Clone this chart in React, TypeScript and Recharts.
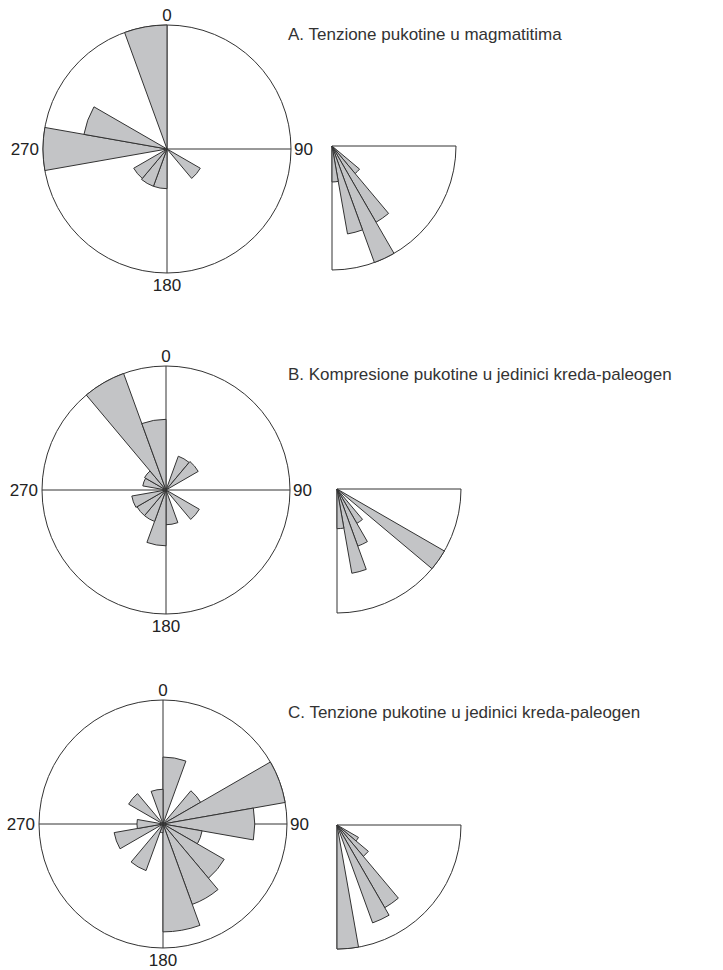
import React from 'react';
import { RadialBarChart, RadialBar, PolarAngleAxis, PolarRadiusAxis, PolarGrid, Pie } from 'recharts';

// strike directions, 20 degree bins given by their centre (percent of the largest petal)
const ROSE_MID = [10, 30, 50, 70, 90, 110, 130, 150, 170, 190, 210, 230, 250, 270, 290, 310, 330, 350];
const ROSE_A = [0, 0, 0, 0, 0, 0, 31, 0, 0, 32, 32, 31, 0, 100, 68, 0, 0, 100];
const ROSE_B = [0, 29, 30, 0, 0, 0, 31, 0, 28, 45, 27, 27, 28, 0, 19, 20, 100, 57];
const ROSE_C = [54, 0, 35, 100, 74, 32, 57, 69, 87, 7, 40, 0, 40, 21, 0, 32, 0, 28];
const ROSE_TICKS = [0, 90, 180, 270];

// dip angles, 10 degree bins
const DIP_MID = [5, 15, 25, 35, 45, 55, 65, 75, 85];
const DIP_A = [0, 0, 0, 0, 29, 71, 100, 72, 29];
const DIP_B = [0, 0, 0, 100, 0, 32, 49, 69, 32];
const DIP_C = [0, 0, 0, 20, 33, 77, 84, 0, 100];
const DIP_TICKS = [0, 90];

const TITLES = [
  'A. Tenzione pukotine u magmatitima',
  'B. Kompresione pukotine u jedinici kreda-paleogen',
  'C. Tenzione pukotine u jedinici kreda-paleogen',
];

const FONT = '"Liberation Sans", Arial, sans-serif';
const FONT_SIZE = 17;
const PETAL = '#c3c4c6';
const LINE = '#333333';
const R = 124;
const NO_MARGIN = { top: 0, right: 0, bottom: 0, left: 0 };

// label placed around the circle, nudged like the original figure
const CompassTick = (props: any) => {
  const { x, y, payload, ccx, ccy } = props;
  const dx = x - ccx;
  const dy = y - ccy;
  let anchor: 'start' | 'middle' | 'end' = 'middle';
  let sx = 0;
  let sy = 6;
  if (Math.abs(dx) > Math.abs(dy)) {
    anchor = dx > 0 ? 'start' : 'end';
    sx = dx > 0 ? -5 : 4;
    sy = 6;
  } else if (dy < 0) {
    sy = 4;
  } else {
    sy = 10;
  }
  return (
    <text x={x + sx} y={y + sy} textAnchor={anchor} fill="#222" fontSize={FONT_SIZE} fontFamily={FONT}>
      {payload.value}
    </text>
  );
};

const Rose = ({ values, x, y }: { values: number[]; x: number; y: number }) => {
  const data = ROSE_MID.map((mid, i) => ({ mid, value: values[i] }));
  const w = 340;
  const h = 330;
  const cx = w / 2;
  const cy = h / 2;
  return (
    <div style={{ position: 'absolute', left: x - cx, top: y - cy }}>
      <RadialBarChart
        width={w}
        height={h}
        data={data}
        layout="centric"
        cx={cx}
        cy={cy}
        innerRadius={0}
        outerRadius={R}
        startAngle={90}
        endAngle={-270}
        barCategoryGap={0}
        margin={NO_MARGIN}
      >
        {/* bins: one tick per petal centre so each petal is 20 degrees wide */}
        <PolarAngleAxis
          angleAxisId="bins"
          dataKey="mid"
          type="number"
          scale="linear"
          domain={[0, 360]}
          ticks={ROSE_MID}
          tick={false}
          tickLine={false}
          axisLine={false}
        />
        <PolarAngleAxis
          dataKey="mid"
          type="number"
          scale="linear"
          domain={[0, 360]}
          ticks={ROSE_TICKS}
          tickLine={false}
          axisLine={false}
          tick={(p: any) => <CompassTick {...p} ccx={cx} ccy={cy} />}
        />
        <PolarRadiusAxis type="number" domain={[0, 100]} ticks={[100]} tick={false} axisLine={false} />
        <PolarGrid gridType="circle" stroke={LINE} strokeWidth={1} />
        <RadialBar dataKey="value" angleAxisId="bins" fill={PETAL} stroke={LINE} strokeWidth={1} isAnimationActive={false} />
      </RadialBarChart>
    </div>
  );
};

const FRAME = [{ name: 'frame', v: 1 }];

const Dip = ({ values, x, y }: { values: number[]; x: number; y: number }) => {
  const data = DIP_MID.map((mid, i) => ({ mid, value: values[i] }));
  const w = 180;
  const h = 170;
  const cx = 20;
  const cy = 10;
  return (
    <div style={{ position: 'absolute', left: x - cx, top: y - cy }}>
      <RadialBarChart
        width={w}
        height={h}
        data={data}
        layout="centric"
        cx={cx}
        cy={cy}
        innerRadius={0}
        outerRadius={R}
        startAngle={0}
        endAngle={-90}
        barCategoryGap={0}
        margin={NO_MARGIN}
      >
        <PolarAngleAxis
          angleAxisId="bins"
          dataKey="mid"
          type="number"
          scale="linear"
          domain={[0, 90]}
          ticks={DIP_MID}
          tick={false}
          tickLine={false}
          axisLine={false}
        />
        <PolarAngleAxis
          dataKey="mid"
          type="number"
          scale="linear"
          domain={[0, 90]}
          ticks={DIP_TICKS}
          tickLine={false}
          axisLine={false}
          tick={(p: any) => <CompassTick {...p} ccx={cx} ccy={cy} />}
        />
        <PolarRadiusAxis type="number" domain={[0, 100]} ticks={[100]} tick={false} axisLine={false} />
        <Pie
          data={FRAME}
          dataKey="v"
          cx={cx}
          cy={cy}
          startAngle={0}
          endAngle={-90}
          innerRadius={0}
          outerRadius={R}
          fill="none"
          stroke={LINE}
          strokeWidth={1}
          isAnimationActive={false}
        />
        <RadialBar dataKey="value" angleAxisId="bins" fill={PETAL} stroke={LINE} strokeWidth={1} isAnimationActive={false} />
      </RadialBarChart>
    </div>
  );
};

export default function App() {
  return (
    <div style={{ position: 'absolute', left: 0, top: 0, width: 723, height: 970, background: '#fff', fontFamily: FONT }}>
      <Rose values={ROSE_A} x={167} y={149} />
      <Dip values={DIP_A} x={332} y={146} />
      <Rose values={ROSE_B} x={166} y={490} />
      <Dip values={DIP_B} x={337} y={489} />
      <Rose values={ROSE_C} x={163} y={824} />
      <Dip values={DIP_C} x={337} y={825} />
      <svg width={723} height={970} style={{ position: 'absolute', left: 0, top: 0, pointerEvents: 'none' }}>
        <text x={288} y={40} fontSize={FONT_SIZE} fontFamily={FONT} fill="#333">{TITLES[0]}</text>
        <text x={288} y={380} fontSize={FONT_SIZE} fontFamily={FONT} fill="#333">{TITLES[1]}</text>
        <text x={288} y={718} fontSize={FONT_SIZE} fontFamily={FONT} fill="#333">{TITLES[2]}</text>
      </svg>
    </div>
  );
}
